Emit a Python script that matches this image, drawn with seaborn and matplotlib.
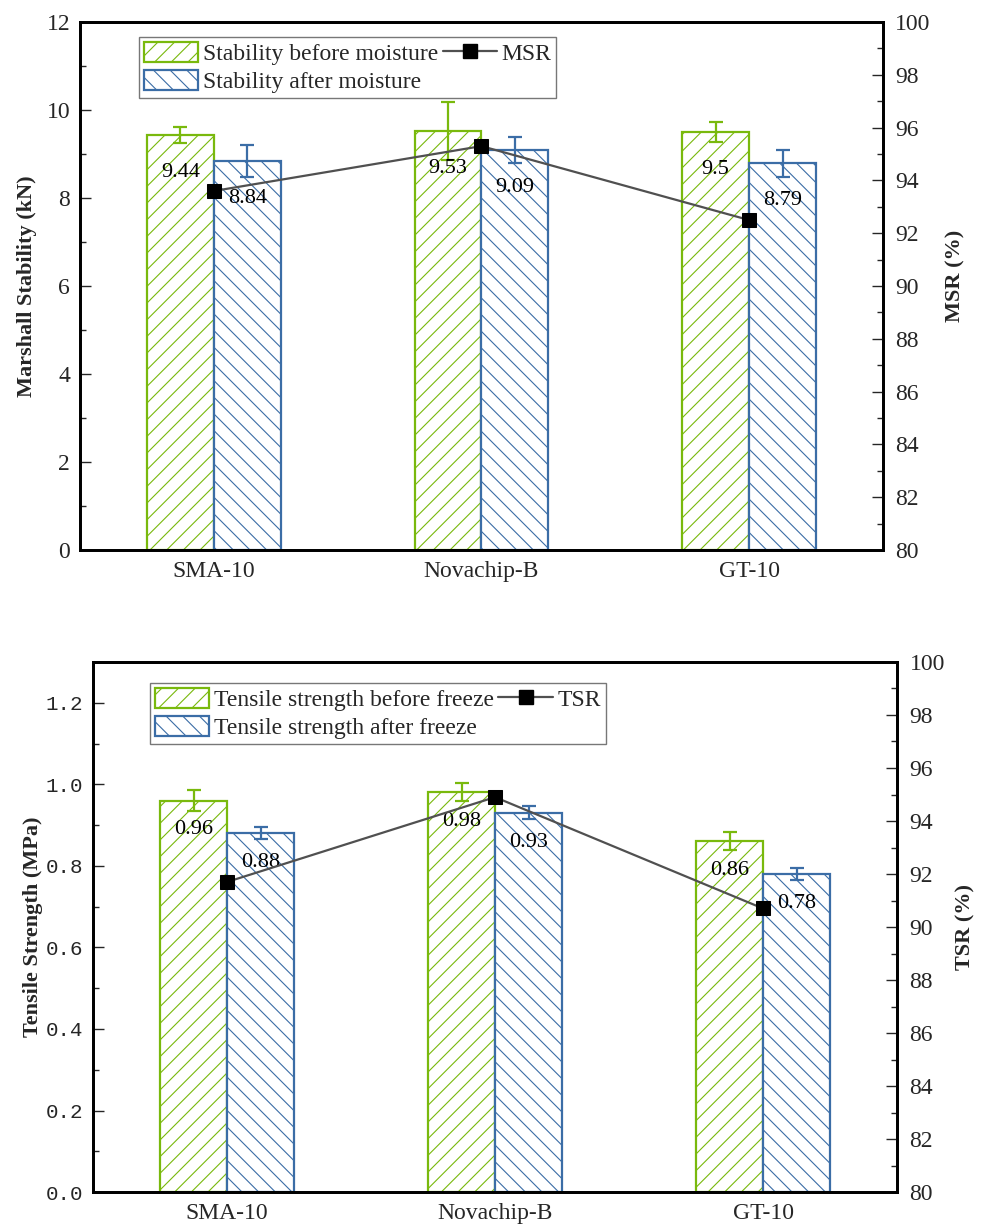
import matplotlib
matplotlib.use("Agg")
import numpy as np
import pandas as pd
import seaborn as sns
import matplotlib.pyplot as plt
from matplotlib.lines import Line2D
from matplotlib.patches import Patch
from matplotlib.ticker import MultipleLocator, FormatStrFormatter

# ---- data ----
mixes = ["SMA-10", "Novachip-B", "GT-10"]

stab_before = [9.44, 9.53, 9.50]
stab_after = [8.84, 9.09, 8.79]
stab_before_err = [0.18, 0.66, 0.23]
stab_after_err = [0.37, 0.30, 0.31]
msr = [93.6, 95.3, 92.5]

ts_before = [0.96, 0.98, 0.86]
ts_after = [0.88, 0.93, 0.78]
ts_before_err = [0.025, 0.022, 0.022]
ts_after_err = [0.015, 0.016, 0.015]
tsr = [91.7, 94.9, 90.7]

# ---- style ----
sns.set_theme(style="white")
plt.rcParams["font.family"] = ["Liberation Serif", "DejaVu Serif"]
plt.rcParams["hatch.linewidth"] = 0.8

GREEN = "#79B90D"
BLUE = "#3B6DA6"
LINE = "#505050"
SERIF = ["Liberation Serif", "DejaVu Serif"]


def draw_panel(ax, before, after, b_err, a_err, ratio, lab_b, lab_a, lab_r,
               ylabel, rlabel, ylim, ymajor, yminor, label_offset, legend_anchor,
               tick_font, tick_fmt, ylabel_x, rlabel_xy):
    df = pd.DataFrame({
        "Mix": mixes * 2,
        "Condition": [lab_b] * len(mixes) + [lab_a] * len(mixes),
        "Value": before + after,
    })
    sns.barplot(data=df, x="Mix", y="Value", hue="Condition",
                hue_order=[lab_b, lab_a], palette=[GREEN, BLUE],
                width=0.5, gap=0, errorbar=None, legend=False,
                saturation=1, ax=ax)

    for container, color, hatch, errs in zip(ax.containers, [GREEN, BLUE],
                                             ["//", "\\\\"], [b_err, a_err]):
        for bar, e in zip(container, errs):
            bar.set_facecolor("white")
            bar.set_edgecolor(color)
            bar.set_hatch(hatch)
            bar.set_linewidth(1.6)
            xc = bar.get_x() + bar.get_width() / 2
            h = bar.get_height()
            ax.errorbar(xc, h, yerr=e, fmt="none", ecolor=color,
                        elinewidth=1.6, capsize=5, capthick=1.6, zorder=3)
            ax.annotate(f"{h:g}", (xc, h), xytext=(0, label_offset),
                        textcoords="offset points", ha="center", va="center",
                        fontsize=16, color="black", family=SERIF, zorder=4)

    ax.set_xlim(-0.5, len(mixes) - 0.5)
    ax.set_ylim(*ylim)
    ax.yaxis.set_major_locator(MultipleLocator(ymajor))
    ax.yaxis.set_minor_locator(MultipleLocator(yminor))
    ax.yaxis.set_major_formatter(FormatStrFormatter(tick_fmt))
    ax.set_xlabel("")
    ax.set_ylabel(ylabel, fontsize=16, fontweight="bold", family=SERIF)
    ax.yaxis.set_label_coords(ylabel_x, 0.5)
    ax.tick_params(axis="y", which="major", direction="in", length=8,
                   width=1, pad=7, labelsize=17 if tick_font is None else 15)
    ax.tick_params(axis="y", which="minor", direction="in", length=4,
                   width=1, left=True)
    ax.tick_params(axis="x", which="major", direction="in", length=14,
                   width=1.2, pad=8, labelsize=17)
    if tick_font is not None:
        for t in ax.get_yticklabels():
            t.set_family(tick_font)
    for sp in ax.spines.values():
        sp.set_linewidth(2)
        sp.set_color("black")

    # ratio on secondary axis
    ax2 = ax.twinx()
    positions = np.arange(len(mixes))
    sns.lineplot(x=positions, y=ratio, ax=ax2, color=LINE, lw=1.6,
                 marker="s", markersize=9.5, markerfacecolor="black",
                 markeredgecolor="black")
    ax2.set_xlim(-0.5, len(mixes) - 0.5)
    ax.set_xlim(-0.5, len(mixes) - 0.5)
    ax2.set_ylim(80, 100)
    ax2.yaxis.set_major_locator(MultipleLocator(2))
    ax2.yaxis.set_minor_locator(MultipleLocator(1))
    ax2.tick_params(axis="y", which="major", direction="in", length=8,
                    width=1, pad=9, labelsize=17)
    ax2.tick_params(axis="y", which="minor", direction="in", length=4,
                    width=1, right=True)
    ax2.set_ylabel(rlabel, fontsize=16, fontweight="bold", family=SERIF)
    ax2.yaxis.set_label_coords(*rlabel_xy)
    ax2.set_xlabel("")
    for sp in ax2.spines.values():
        sp.set_linewidth(2)
        sp.set_color("black")

    handles = [
        Patch(facecolor="white", edgecolor=GREEN, hatch="//", linewidth=1.6),
        Patch(facecolor="white", edgecolor=BLUE, hatch="\\\\", linewidth=1.6),
        Line2D([], [], color=LINE, lw=1.6, marker="s", markersize=9.5,
               markerfacecolor="black", markeredgecolor="black"),
    ]
    leg = ax2.legend(handles, [lab_b, lab_a, lab_r], ncol=2, loc="upper left",
                     bbox_to_anchor=legend_anchor, borderaxespad=0,
                     prop={"family": SERIF, "size": 17},
                     frameon=True, fancybox=False, edgecolor="#555555",
                     handlelength=2.3, handleheight=0.95, handletextpad=0.2,
                     columnspacing=0.2, labelspacing=0.2, borderpad=0.2)
    leg.get_frame().set_linewidth(1.0)
    return ax2


fig = plt.figure(figsize=(9.81, 12.25), dpi=100)
ax_top = fig.add_axes([0.0815, 0.551, 0.8185, 0.431])
ax_bot = fig.add_axes([0.0948, 0.0269, 0.8196, 0.4327])

draw_panel(ax_top, stab_before, stab_after, stab_before_err, stab_after_err,
           msr, "Stability before moisture", "Stability after moisture", "MSR",
           "Marshall Stability (kN)", "MSR (%)", (0, 12), 2, 1, -27,
           (0.0735, 0.9716), None, "%g", -0.054, (1.078, 0.52))

draw_panel(ax_bot, ts_before, ts_after, ts_before_err, ts_after_err,
           tsr, "Tensile strength before freeze", "Tensile strength after freeze",
           "TSR", "Tensile Strength (MPa)", "TSR (%)", (0, 1.3), 0.2, 0.1, -21,
           (0.0709, 0.960), "Liberation Mono", "%.1f", -0.062, (1.073, 0.5))

fig.savefig("out.png", dpi=100)
